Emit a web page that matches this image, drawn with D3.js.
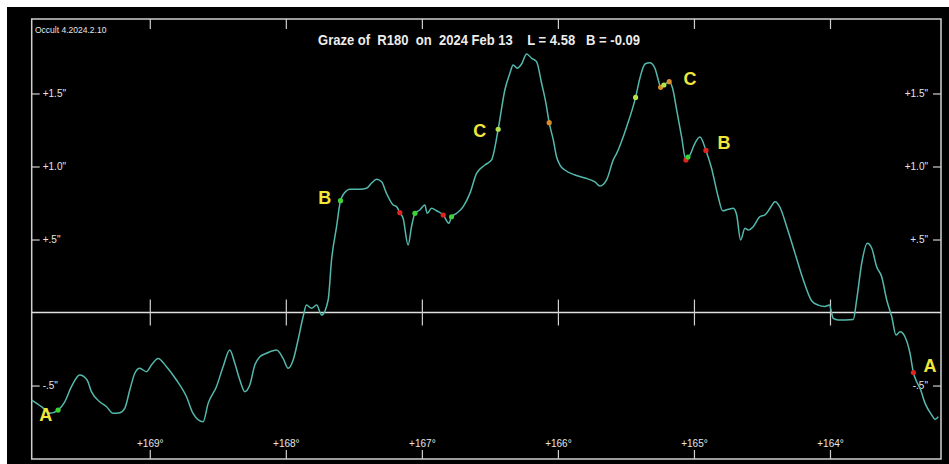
<!DOCTYPE html>
<html>
<head>
<meta charset="utf-8">
<script src="https://cdn.jsdelivr.net/npm/d3@7"></script>
<style>
  body { margin: 0; background: #fff; }
  svg { display: block; }
  .axis text { fill: #e6e6e6; font-family: "Liberation Sans Narrow", "Arial Narrow", "Liberation Sans", sans-serif; font-size: 10px; }
  .axis line { stroke: #d0d0d0; stroke-width: 1.2; }
</style>
</head>
<body>
<svg id="chart"></svg>
<script>

// limb profile: longitude (deg) and height (arcsec)
const profileLon = [169.868,169.796,169.735,169.674,169.625,169.576,169.515,169.461,169.429,169.368,169.318,169.270,169.221,169.184,169.147,169.110,169.074,169.024,168.988,168.939,168.877,168.804,168.730,168.682,168.608,168.571,168.510,168.461,168.412,168.375,168.338,168.301,168.265,168.228,168.191,168.142,168.068,168.020,167.983,167.946,167.910,167.873,167.848,167.811,167.774,167.737,167.689,167.664,167.627,167.598,167.554,167.529,167.456,167.407,167.371,167.333,167.296,167.260,167.211,167.186,167.162,167.138,167.101,167.076,167.051,167.015,166.978,166.961,166.929,166.892,166.843,166.801,166.782,166.745,166.696,166.647,166.598,166.537,166.488,166.439,166.390,166.353,166.329,166.299,166.267,166.230,166.193,166.157,166.120,166.088,166.064,166.034,166.010,165.985,165.949,165.875,165.801,165.728,165.691,165.642,165.593,165.568,165.495,165.429,165.397,165.360,165.324,165.287,165.262,165.245,165.221,165.182,165.157,165.127,165.091,165.059,165.029,164.993,164.956,164.912,164.871,164.822,164.789,164.748,164.711,164.686,164.657,164.625,164.600,164.564,164.515,164.478,164.441,164.404,164.368,164.318,164.257,164.196,164.134,164.086,164.037,164.005,163.976,163.939,163.829,163.804,163.767,163.726,163.693,163.657,163.620,163.583,163.546,163.515,163.485,163.449,163.412,163.387,163.363,163.338,163.301,163.252,163.228,163.204];
const profileH = [-0.599,-0.645,-0.690,-0.668,-0.611,-0.508,-0.428,-0.462,-0.542,-0.611,-0.645,-0.690,-0.686,-0.656,-0.531,-0.416,-0.382,-0.405,-0.360,-0.314,-0.371,-0.462,-0.577,-0.690,-0.748,-0.622,-0.508,-0.371,-0.257,-0.348,-0.462,-0.542,-0.497,-0.360,-0.303,-0.279,-0.257,-0.314,-0.382,-0.325,-0.188,-0.029,0.051,0.029,0.051,-0.017,0.086,0.360,0.588,0.766,0.834,0.844,0.844,0.851,0.885,0.912,0.896,0.816,0.736,0.725,0.684,0.645,0.462,0.588,0.679,0.702,0.736,0.679,0.714,0.697,0.668,0.611,0.656,0.679,0.725,0.816,0.953,1.010,1.045,1.255,1.524,1.638,1.695,1.673,1.702,1.771,1.741,1.718,1.570,1.433,1.300,1.182,1.067,1.010,0.976,0.942,0.921,0.894,0.866,0.908,1.045,1.090,1.271,1.473,1.606,1.702,1.711,1.673,1.592,1.542,1.558,1.581,1.536,1.387,1.204,1.045,1.079,1.159,1.202,1.110,0.990,0.793,0.697,0.707,0.714,0.668,0.497,0.577,0.565,0.588,0.656,0.668,0.714,0.759,0.721,0.588,0.405,0.223,0.079,0.051,0.042,0.051,-0.040,-0.051,-0.047,0.086,0.337,0.474,0.440,0.314,0.245,0.086,-0.029,-0.154,-0.132,-0.166,-0.279,-0.411,-0.474,-0.519,-0.622,-0.702,-0.732,-0.714];

// observer events
const eventLon  = [169.674,167.598,167.162,167.051,166.843,166.782,166.439,166.064,165.429,165.245,165.221,165.182,165.059,165.044,164.912,163.387];
const eventH    = [-0.668,0.766,0.684,0.679,0.668,0.656,1.255,1.300,1.473,1.542,1.558,1.581,1.045,1.065,1.110,-0.411];
const eventType = ["R","R","D","R","D","R","Y","O","Y","O","Y","O","D","R","D","D"];

// site letters
const letterText = ["A","B","C","C","B","A"];
const letterLon  = [169.765,167.713,166.574,165.029,164.779,163.265];
const letterH    = [-0.702,0.781,1.243,1.599,1.161,-0.366];

const xTicks = [169,168,167,166,165,164];
const yTicks = [1.5,1.0,0.5,-0.5];
const yTickLabels = ['+1.5"','+1.0"','+.5"','-.5"'];

const titleText = "Graze of  R180  on  2024 Feb 13    L = 4.58   B = -0.09";
const versionText = "Occult 4.2024.2.10";

const width = 949, height = 464;

const svg = d3.select("#chart").attr("width", width).attr("height", height);

svg.append("rect").attr("width", width).attr("height", height).attr("fill", "#fff");
svg.append("rect").attr("x", 7).attr("y", 7).attr("width", width - 7).attr("height", height - 7).attr("fill", "#000");

const x = d3.scaleLinear().domain([169.868, 163.184]).range([31.7, 941]);
const y = d3.scaleLinear().domain([-1.003, 2.010]).range([459, 19]);

const [x0, x1] = x.range();
const [yb, yt] = y.range();

// frame
svg.append("rect")
  .attr("x", x0).attr("y", yt)
  .attr("width", x1 - x0).attr("height", yb - yt)
  .attr("fill", "none").attr("stroke", "#d0d0d0").attr("stroke-width", 1.5);

// zero line
svg.append("line")
  .attr("x1", x0).attr("x2", x1)
  .attr("y1", y(0)).attr("y2", y(0))
  .attr("stroke", "#e0e0e0").attr("stroke-width", 1.5);

// bottom axis with labels
const gBottom = svg.append("g").attr("class", "axis")
  .attr("transform", `translate(0,${yb})`)
  .call(d3.axisTop(x).tickValues(xTicks).tickSize(9).tickSizeOuter(0).tickPadding(3)
        .tickFormat(d => "+" + d + "°"));
gBottom.select(".domain").remove();

// top ticks
const gTop = svg.append("g").attr("class", "axis")
  .attr("transform", `translate(0,${yt})`)
  .call(d3.axisBottom(x).tickValues(xTicks).tickSize(10).tickSizeOuter(0).tickFormat(""));
gTop.select(".domain").remove();

// ticks across the zero line
const gMid = svg.append("g").attr("class", "axis")
  .attr("transform", `translate(0,${y(0) - 13})`)
  .call(d3.axisBottom(x).tickValues(xTicks).tickSize(26).tickSizeOuter(0).tickFormat(""));
gMid.select(".domain").remove();

// left and right height axes
const gLeft = svg.append("g").attr("class", "axis")
  .attr("transform", `translate(${x0},0)`)
  .call(d3.axisRight(y).tickValues(yTicks).tickSize(8).tickSizeOuter(0).tickPadding(3)
        .tickFormat((d, i) => yTickLabels[i]));
gLeft.select(".domain").remove();

const gRight = svg.append("g").attr("class", "axis")
  .attr("transform", `translate(${x1},0)`)
  .call(d3.axisLeft(y).tickValues(yTicks).tickSize(8).tickSizeOuter(0).tickPadding(5)
        .tickFormat((d, i) => yTickLabels[i]));
gRight.select(".domain").remove();

// profile
const profile = profileLon.map((d, i) => ({lon: d, h: profileH[i]}));
const line = d3.line().x(d => x(d.lon)).y(d => y(d.h)).curve(d3.curveMonotoneX);

svg.append("path")
  .datum(profile)
  .attr("d", line)
  .attr("fill", "none")
  .attr("stroke", "#55b8ad")
  .attr("stroke-width", 1.5);

// events
const eventColor = d3.scaleOrdinal()
  .domain(["D","R","O","Y"])
  .range(["#e0241f","#3fd13a","#d98a2a","#b5e04a"]);

svg.append("g")
  .selectAll("circle")
  .data(eventLon.map((d, i) => ({lon: d, h: eventH[i], t: eventType[i]})))
  .join("circle")
  .attr("cx", d => x(d.lon))
  .attr("cy", d => y(d.h))
  .attr("r", 2.6)
  .attr("fill", d => eventColor(d.t));

// letters
svg.append("g")
  .selectAll("text")
  .data(letterText.map((d, i) => ({t: d, lon: letterLon[i], h: letterH[i]})))
  .join("text")
  .attr("x", d => x(d.lon))
  .attr("y", d => y(d.h))
  .attr("text-anchor", "middle")
  .attr("dominant-baseline", "central")
  .attr("fill", "#f2e63a")
  .attr("font-family", "Liberation Sans, Arial, sans-serif")
  .attr("font-weight", "bold")
  .attr("font-size", 18)
  .text(d => d.t);

// title
svg.append("text")
  .attr("x", 318).attr("y", 45)
  .attr("textLength", 322).attr("lengthAdjust", "spacingAndGlyphs")
  .attr("fill", "#ececec")
  .attr("font-family", "Liberation Sans Narrow, Arial Narrow, Liberation Sans, sans-serif")
  .attr("font-weight", "bold")
  .attr("font-size", 15)
  .attr("xml:space", "preserve")
  .style("white-space", "pre")
  .text(titleText);

svg.append("text")
  .attr("x", 35).attr("y", 32.5)
  .attr("fill", "#e6e6e6")
  .attr("font-family", "Liberation Sans Narrow, Arial Narrow, Liberation Sans, sans-serif")
  .attr("font-size", 8.5)
  .text(versionText);

</script>
</body>
</html>
